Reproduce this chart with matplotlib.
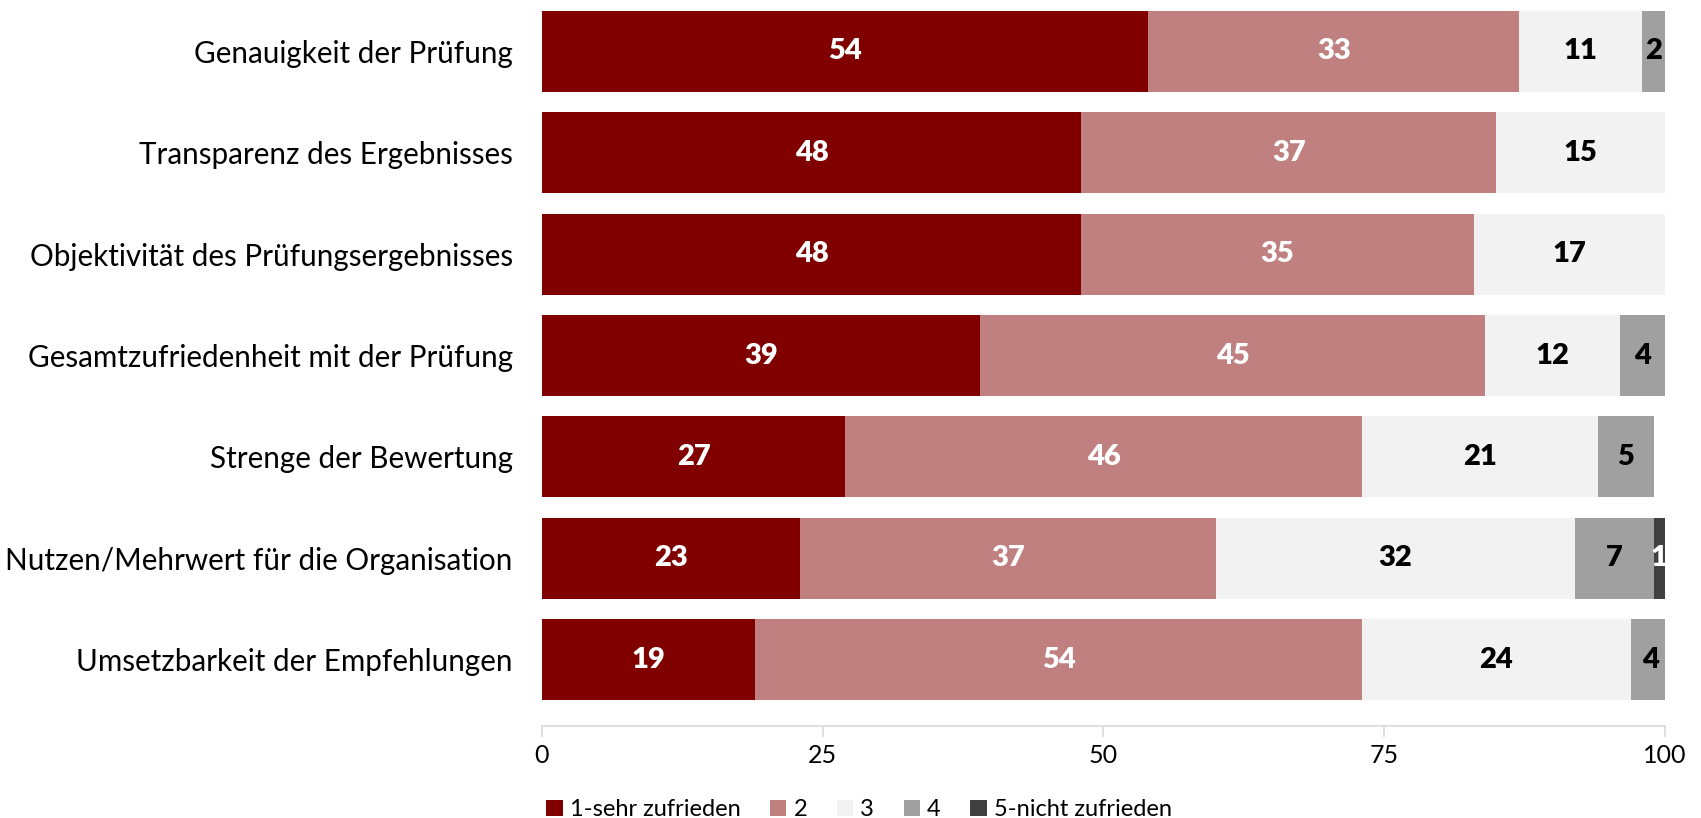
import matplotlib.pyplot as plt
import numpy as np

plt.rcParams['font.family'] = ['Lato', 'DejaVu Sans']

# Data
categories = [
    "Genauigkeit der Prüfung",
    "Transparenz des Ergebnisses",
    "Objektivität des Prüfungsergebnisses",
    "Gesamtzufriedenheit mit der Prüfung",
    "Strenge der Bewertung",
    "Nutzen/Mehrwert für die Organisation",
    "Umsetzbarkeit der Empfehlungen",
]
series_names = ["1-sehr zufrieden", "2", "3", "4", "5-nicht zufrieden"]

s1 = [54, 48, 48, 39, 27, 23, 19]
s2 = [33, 37, 35, 45, 46, 37, 54]
s3 = [11, 15, 17, 12, 21, 32, 24]
s4 = [2, 0, 0.2, 4, 5, 7, 3.5]
s5 = [0, 0, 0, 0, 0, 1, 0]

colors = ["#800000", "#C08080", "#F2F2F2", "#A0A0A0", "#404040"]
label_colors = ["white", "white", "black", "black", "white"]

fig = plt.figure(figsize=(17.01, 8.18), dpi=100)
ax = fig.add_axes([0.3186, 0.113, 0.6602, 0.886])

y = np.arange(len(categories))
left = np.zeros(len(categories))
for name, vals, col, lcol in zip(series_names, [s1, s2, s3, s4, s5], colors, label_colors):
    vals = np.array(vals, dtype=float)
    ax.barh(y, vals, left=left, height=0.8, color=col, label=name,
            edgecolor=col, linewidth=0)
    for yi, (l, v) in enumerate(zip(left, vals)):
        if v >= 0.5:
            ax.text(l + v / 2, yi, f"{v:.0f}", ha='center', va='center',
                    color=lcol, fontsize=21, fontweight='heavy')
    left += vals

ax.set_xlim(0, 100)
ax.set_ylim(len(categories) - 0.5 + 0.15, -0.5)
ax.set_xticks([0, 25, 50, 75, 100])
ax.set_yticks(y)
ax.set_yticklabels(categories, fontsize=21.3)
ax.tick_params(axis='y', length=0, pad=21)
ax.tick_params(axis='x', length=8, width=1.2, color='#D9D9D9', labelsize=18, pad=5)

for side in ['top', 'right', 'left']:
    ax.spines[side].set_visible(False)
ax.spines['bottom'].set_color('#D9D9D9')
ax.spines['bottom'].set_linewidth(1.2)

fig.legend(*ax.get_legend_handles_labels(), loc='center', bbox_to_anchor=(0.505, 0.01),
           ncol=5, frameon=False, fontsize=17, handlelength=0.7, handleheight=0.7,
           handletextpad=0.3, columnspacing=1.25, borderaxespad=0)

fig.savefig("out.png", dpi=100)
